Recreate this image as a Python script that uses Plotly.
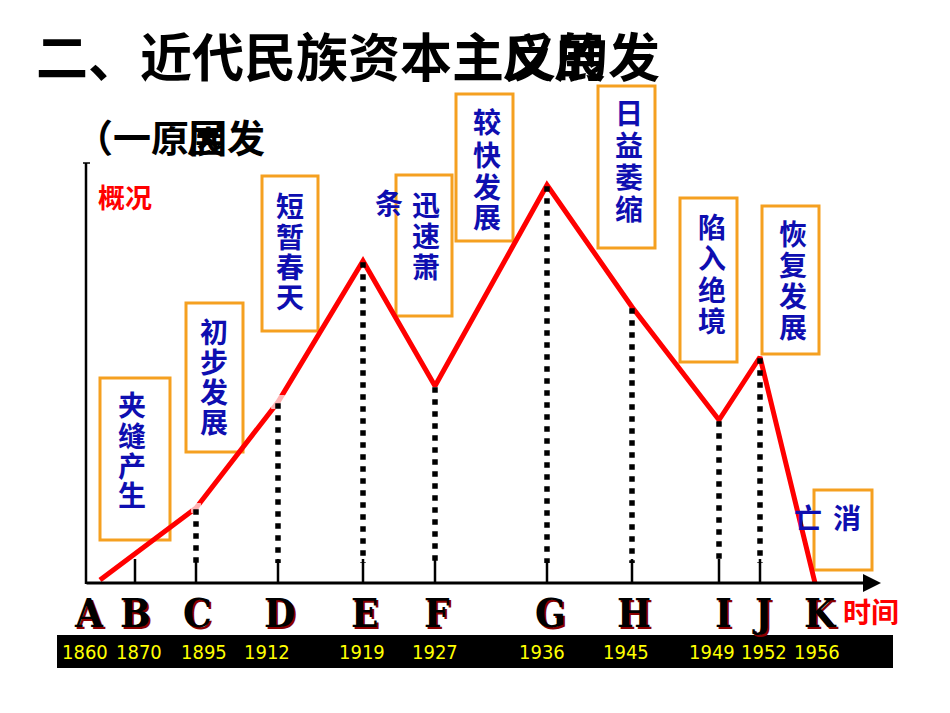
import plotly.graph_objects as go

# ---------------- data ----------------
letters = ["A", "B", "C", "D", "E", "F", "G", "H", "I", "J", "K"]
years = ["1860", "1870", "1895", "1912", "1919", "1927", "1936", "1945", "1949", "1952", "1956"]
x_pos = [100, 135, 196, 278, 363, 435, 547, 632, 719, 760, 815]     # timeline position
level = [0.75, 7.4, 18.75, 45.25, 80.5, 49.25, 99.5, 69.0, 40.75, 56.5, 0]  # development level
dotted_idx = [2, 3, 4, 5, 6, 7, 8, 9]
tick_idx = [1, 2, 3, 4, 5, 6, 7, 8, 9]
gap_idx = [2, 3]
stages = ["夹缝产生", "初步发展", "短暂春天", "迅速萧", "较快发展", "日益萎缩", "陷入绝境", "恢复发展", "消"]
title_text = "二、近代民族资本主义的发"
subtitle_text = "（一原因发"

# layout offsets (pixels) for the labels under the axis
letter_shift = [-11, 0, 1, 1, 1, 2, 3, 2, 4, 2, 5]
year_shift = [-15, 4, 8, -11, -1, 0, -5, -6, -7, 4, 2]

# page is drawn with an 8px body margin
M = 8
W, H = 950 - 2 * M, 713 - 2 * M
def px(x): return (x - M) / W
def py(y): return 1 - (y - M) / H

CJK = "Noto Sans CJK SC"
BLUE = "#0E0EB0"
ORANGE = "#F5A020"

fig = go.Figure()

# ticks on time axis
tx, ty = [], []
for i in tick_idx:
    tx += [x_pos[i], x_pos[i], None]
    ty += [0, 6, None]
fig.add_trace(go.Scatter(x=tx, y=ty, mode="lines", line=dict(color="black", width=2.5),
                         hoverinfo="skip", showlegend=False))

# red development line
fig.add_trace(go.Scatter(x=x_pos, y=level, mode="lines", line=dict(color="#FF0000", width=5),
                         hoverinfo="skip", showlegend=False))
# small breaks in the line
fig.add_trace(go.Scatter(x=[x_pos[i] for i in gap_idx], y=[level[i] for i in gap_idx], mode="markers",
                         marker=dict(symbol="square", color="white", size=[9, 13]),
                         hoverinfo="skip", showlegend=False))

# dotted drop lines
dx, dy = [], []
for i in dotted_idx:
    dx += [x_pos[i], x_pos[i], None]
    dy += [level[i] - 0.3, 5, None]
fig.add_trace(go.Scatter(x=dx, y=dy, mode="lines", line=dict(color="black", width=5.5, dash="5.5px,6.5px"),
                         hoverinfo="skip", showlegend=False))

shapes = []
annotations = []

def txt(x, y, s, size, color, family=CJK, weight=700, xanchor="center", yanchor="middle", **kw):
    annotations.append(dict(xref="paper", yref="paper", x=px(x), y=py(y), text=s, showarrow=False,
                            xanchor=xanchor, yanchor=yanchor,
                            font=dict(family=family, size=size, color=color, weight=weight), **kw))

# axes
shapes.append(dict(type="line", xref="paper", yref="paper", x0=px(86), x1=px(86), y0=py(584), y1=py(163),
                   line=dict(color="black", width=2.5)))
shapes.append(dict(type="line", xref="paper", yref="paper", x0=px(83), x1=px(90), y0=py(163), y1=py(163),
                   line=dict(color="black", width=1.5)))
annotations.append(dict(xref="x", yref="y", x=881, y=0, axref="x", ayref="y",
                        ax=85, ay=0, text="", showarrow=True, arrowhead=2, arrowsize=1.2,
                        arrowwidth=3, arrowcolor="black"))

# black year bar
shapes.append(dict(type="rect", xref="paper", yref="paper", x0=px(57), x1=px(893), y0=py(668), y1=py(635),
                   fillcolor="black", line=dict(width=0), layer="below"))

# stage boxes (pixel boxes) and label char layout
boxes = [
    (100, 378, 170, 540, 132, [404, 435, 465, 494]),
    (186, 303, 243, 452, 214, [331, 361, 391, 421]),
    (262, 176, 318, 331, 290, [205, 236, 266, 296]),
    (396, 175, 452, 316, 426, [204, 235, 266]),
    (456, 94, 513, 241, 487, [121, 154, 186, 216]),
    (598, 86, 655, 248, 629, [112, 144, 176, 208]),
    (680, 198, 737, 362, 712, [226, 257, 289, 320]),
    (762, 206, 819, 354, 793, [233, 264, 295, 326]),
    (814, 490, 872, 570, 847, [517]),
]
for (x0, y0, x1, y1, cx, ys), s in zip(boxes, stages):
    shapes.append(dict(type="rect", xref="paper", yref="paper", x0=px(x0), x1=px(x1), y0=py(y1), y1=py(y0),
                       line=dict(color=ORANGE, width=3), layer="below"))
    for ch, yy in zip(s, ys):
        txt(cx, yy, ch, 28, BLUE)
# displaced characters
txt(389, 202, "条", 28, BLUE)
txt(808, 517, "亡", 28, BLUE)

# letters with dark red shadow
for lt, xv, sh in zip(letters, x_pos, letter_shift):
    for col, ox, oy in [("#8B0000", 2, -2), ("black", 0, 0)]:
        annotations.append(dict(xref="x", yref="y", x=xv, y=-7.25, text=lt, showarrow=False,
                                xshift=sh + ox, yshift=oy, xanchor="center", yanchor="middle",
                                font=dict(family="DejaVu Serif Condensed", size=40, color=col, weight=700)))

# years
for yr, xv, sh in zip(years, x_pos, year_shift):
    annotations.append(dict(xref="x", yref="y", x=xv, y=-17.25, text=yr, showarrow=False, xshift=sh,
                            xanchor="center", yanchor="middle",
                            font=dict(family="DejaVu Sans Condensed", size=20, color="#FFFF00")))

# axis labels
txt(125, 196, "概况", 27, "#FF0000")
txt(871, 611, "时间", 28, "#FF0000")

# title + overlapping glyphs
txt(34, 55, title_text, 52, "black", xanchor="left")
for ch, pos in [("反", 9), ("展", 10)]:
    txt(34 + 52 * (pos + 0.5), 55, ch, 52, "black")
txt(73, 136, subtitle_text, 38, "black", xanchor="left")
txt(73 + 38 * 3.5, 136, "展", 38, "black")

fig.update_layout(
    width=W, height=H, margin=dict(l=0, r=0, t=0, b=0),
    paper_bgcolor="white", plot_bgcolor="white",
    xaxis=dict(range=[M, M + W], visible=False, domain=[0, 1], fixedrange=True),
    yaxis=dict(range=[(583 - (M + H)) / 4, (583 - M) / 4], visible=False, domain=[0, 1], fixedrange=True),
    shapes=shapes, annotations=annotations, showlegend=False,
)
fig.write_html("out.html")
